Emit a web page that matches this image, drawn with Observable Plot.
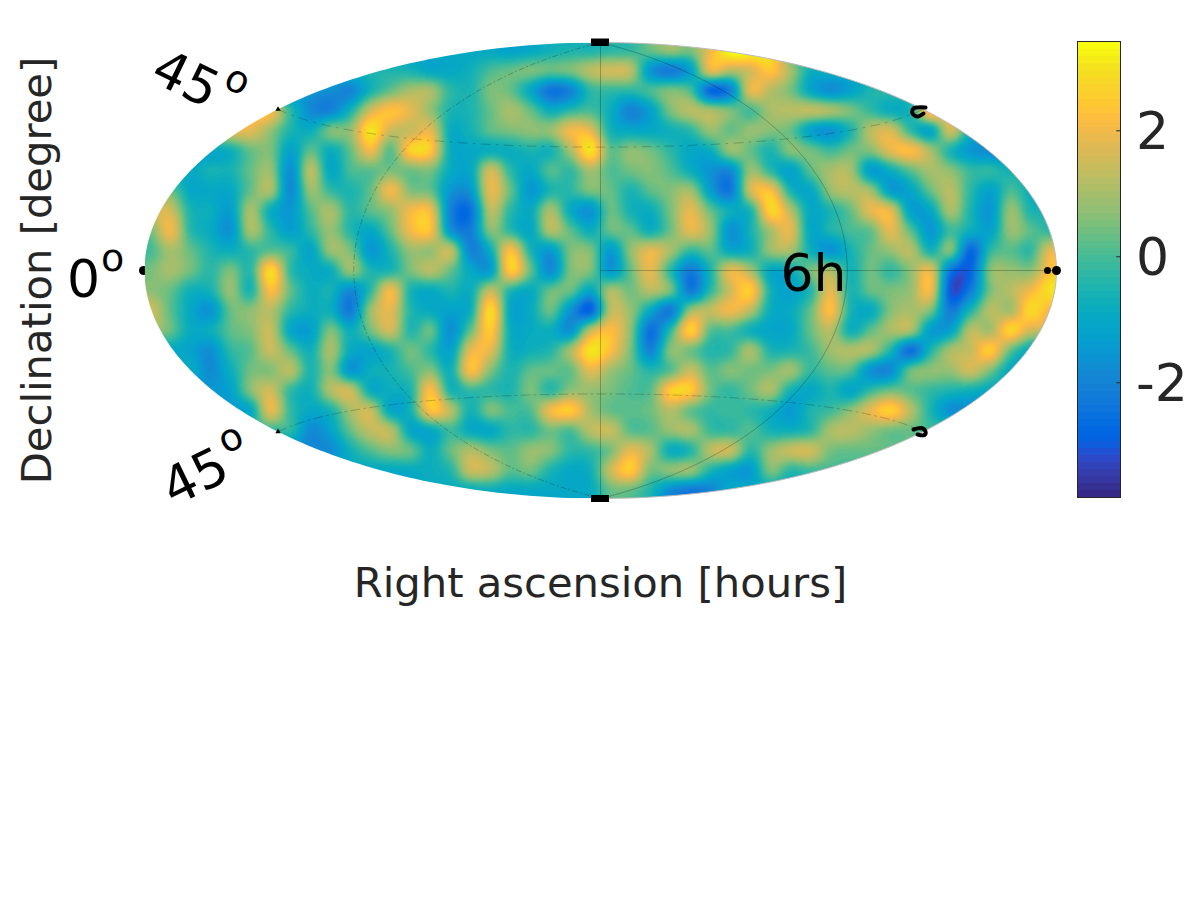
<!DOCTYPE html>
<html><head><meta charset="utf-8">
<style>html,body{margin:0;padding:0;background:#fff}#wrap{position:relative;width:1200px;height:900px;font-family:"DejaVu Sans"}#bar{position:absolute;left:0;top:0}svg{display:block;background:transparent!important}</style>
<script src="https://cdn.jsdelivr.net/npm/d3@7"></script>
<script src="https://cdn.jsdelivr.net/npm/@observablehq/plot@0.6"></script>
</head><body><div id="wrap"><div id="map"></div><div id="bar"></div></div>
<script>
// Sky-map values: one row per declination band, 46 samples per row, top to bottom.
const r050=[-1,-1,-1,-1,-1,-1,-1,-1,-1,-1,-1,-1,-1,-1,-1,-1,-1,-1,-1.2,-1,-.7,-.5,-.5,-.3,-.2,.3,.8,.5,2,3.5,3.5,3,0,0,0,0,0,0,0,0,0,0,0,0,0,0];
const r070=[-.5,-.5,-.5,-.5,-.5,-.5,-.5,-.5,-.5,-.5,-.5,-.5,-.5,-.6,-1,-1,-.7,0,.3,.5,.3,.5,1.2,1.5,1.2,-1.5,-2.2,-1.2,1.8,1.2,1.6,2.4,1,-.7,-.7,-.7,-.7,-.7,-.7,-.7,-.7,-.7,-.7,-.7,-.7,-.7];
const r090=[-1.5,-1.5,-1.5,-1.5,-1.5,-1.5,-1.5,-1.5,-1.5,-1.7,-2,-.6,.3,1,1,-.3,-.5,.5,.3,-1,-2.4,-2,-.3,-.2,-.3,0,.5,0,-2.7,-2,1.8,1.2,.5,-1,-1.7,-1.2,-.5,-.3,-.3,-.3,-.3,-.3,-.3,-.3,-.3,-.3];
const r110=[2,2,2,2,2,2,2,-.3,-1.8,-2,-.6,1.5,2.3,1.8,.8,-.5,-.5,.3,1,.3,-.8,-.3,0,-.8,-2,-1.2,.5,1.2,1,.5,0,1,1.2,1.3,1,.5,-.2,-.8,-.5,2.5,1.5,1.5,1.5,1.5,1.5,1.5];
const r130=[1.8,1.8,1.8,1.8,1.8,1.8,.8,-.5,-.8,.5,.8,3,1.5,1.4,1.8,-.8,-.6,.2,.5,.7,.8,2,1.8,-.6,-1,-1,-.7,-.3,.8,.3,.8,.6,.3,-1.2,-1.6,-.5,1.2,1.6,-.2,-1,1.5,-.5,-.5,-.5,-.5,-.5];
const r150=[-1,-1,-1,-1,-.7,.3,.5,-1.2,.2,-.8,.3,2,.2,2.6,2.4,-.8,-1,-.8,-.8,-.5,-.6,1,3,.3,.7,.4,-.3,-1,-.8,.8,.3,-.5,.6,.4,-.1,.4,.6,1.8,2.2,1,-.5,-1.5,-1.8,-1.8,-1.8,-1.8];
const r170=[-1,-1,-1,-.6,-.6,.3,.8,-1.7,1.2,-1,0,.2,.5,.4,.5,-.9,-1,1.5,-.3,-1,.1,-.2,1,.1,.4,.6,.1,-.8,-1.6,-1.8,.8,-.3,-1.2,.2,1,1,-1.3,-.8,.2,1,.7,-.2,-.3,-.7,-.7,-.7];
const r190=[.3,.3,-1,-1,-1,.3,1,-1.8,.8,-.2,-.5,.3,2,.6,.3,-1.5,-1.5,1.8,.3,-1.5,-.5,-.3,.5,.3,-.5,.2,.6,.9,-1.3,-2.3,1.5,2.2,-.5,-1,.8,1.2,.9,-1.3,-1.1,.3,1.2,-.3,-1.2,0,-.8,-.8];
const r210=[1.5,1.5,-.5,-.8,-1.3,1,-.8,-1.5,.1,1,-.3,.2,.8,2,2,-2,-2.5,1.2,-.3,-.9,1,-.9,-1.6,.3,-.6,-.8,.5,1.8,.3,-.8,-.5,2.7,1.2,-1,-.5,.3,1.8,1.8,-1.2,-1,1,-.5,-1.5,.8,-.5,-.5];
const r230=[.5,2,-.3,-.9,-1.6,1,-.3,-1.3,-.3,.8,-.4,-1,.3,2,2.2,-1.5,-2.2,.6,-.3,-1,1.1,.2,-.8,.3,.2,-.7,.4,1.8,.8,-1.6,-.6,1,1.8,-1,-.5,0,.3,1.8,.2,-1.5,-.1,-.8,-1.2,.8,.2,-.3];
const r250=[0,1,.3,-.5,-.8,-.3,.2,-.2,-1.1,.8,.5,-1.5,-.5,.8,.8,1.3,-2,-.8,2.2,-.5,-1.4,.5,.5,-1.4,.7,1.8,1,-.2,.2,-1,-.7,.8,1,-.7,-1.6,-.6,.3,.8,1.2,-.6,.5,-2.7,-.3,.2,-.2,1.8];
const r270=[.5,1,.4,-.3,.5,-.3,2.8,-.2,-.9,-.8,.8,-.5,-.5,.5,1.2,.3,-1,-1.3,2.5,.3,-1.8,.5,.5,-1.5,.3,1.8,-.3,-2.2,-.5,1.8,1,-1,-.8,.4,1,-.6,.4,-.2,.7,1.8,-2.3,-2.8,.6,.8,.7,2.3];
const r290=[.7,.3,-.7,-.6,.8,-.5,2.2,.3,-.8,-.6,-1.8,-.3,2,-.5,-.9,-.5,-.8,1.3,-.4,-.9,.3,.3,-1,1,.4,1.2,.4,-2.2,-.3,1.5,2.5,-.6,-1.2,-.4,1.8,-.5,.3,.5,.8,2,-3,-2.2,.5,1.2,2,3];
const r310=[1.5,.2,-1,-1.6,.3,.7,1.2,-.3,-.8,-.8,-2.2,.8,1.8,-.4,-.9,-1.2,-.7,2.8,-1,-.9,.3,-1.6,-2.8,1.2,.8,-1,-2.2,.8,1.3,2,1.2,-.8,-.9,.3,2.2,-.5,-.9,.6,1,.5,-2.2,-.5,1.2,1,2.8,2];
const r330=[1,.3,-.9,-.8,.2,.6,1.4,-1,-1.3,.5,-.8,.4,1.5,-.4,.3,-1.7,.3,2.5,-.8,-.9,-.8,-1.6,1.3,2.2,.7,-2.5,-.3,2.6,.2,0,-.7,-1.1,-1,.3,1.2,-.7,.2,1,1,-1.3,-1.2,1.2,1,2.7,1.5,1.5];
const r350=[-1,-1,-1.2,-1.7,-.3,.2,1.4,.3,-.7,1,-.9,-1.1,-.5,.4,-.3,-1.2,1.8,1.8,-.7,-.7,-.4,1,3,2.2,.5,-2,.6,.4,-.4,-.2,1,-.5,-.5,-.1,.9,1.1,1,-.5,-2.5,-.5,1,1.4,2.5,.3,-1,-1];
const r370=[-.9,-.9,-.9,-1.8,-.8,.4,.6,1.2,-.5,.6,-1.5,-.8,-.6,0,.6,-.7,2.2,.6,-.5,.2,.3,.3,1.8,.9,.3,-.4,.2,1.4,.2,.6,.4,.5,.9,-.2,.2,.1,-1.6,-1.8,.3,.7,.8,1.5,.5,-1,-1,-1];
const r390=[-1.5,-1.5,-1.5,-1.5,-1.2,.6,1.5,-.2,-.7,1.1,1.4,-.8,-.8,-.5,2.2,-.5,-.2,-.3,-.5,.5,-.3,.7,.8,.5,.1,.2,2.5,2.5,.4,-.2,.4,1,-.6,-1,-.5,-1.1,-.2,.4,.2,-.2,-.5,-.7,-1,-1,-1,-1];
const r410=[-1.3,-1.3,-1.3,-1.3,-1.3,-1,1.8,-.2,-1,-.6,1,1.4,-1,-.6,2.3,1.2,-.6,.5,0,.1,2,2.5,1,.3,.2,.4,1.2,.3,-.2,-.1,-.3,-.7,-1.4,-.5,-.1,.7,1.8,2.6,1.2,-.5,-1.7,-1.6,-1.6,-1.6,-1.6,-1.6];
const r430=[-.3,-.3,-.3,-.3,-.3,-.3,-.3,-.3,-1.8,-1.2,.3,1.3,1.2,-1,-1,-.1,-.9,-1,-.3,-.3,.4,.1,1.2,1.4,.2,.2,.8,1,-.1,-.2,.1,-.6,-.7,-.3,1,1.2,.8,.4,.3,0,0,0,0,0,0,0];
const r450=[-1.8,-1.8,-1.8,-1.8,-1.8,-1.8,-1.8,-1.8,-1.8,-1.8,-.7,.1,.6,.3,-.8,.3,1.1,.5,.2,.8,.6,-.3,-.2,.5,1.8,1,-.8,-.4,1.2,1.4,-.3,.8,1.4,1.5,.5,.3,.3,.3,.3,.3,.3,.3,.3,.3,.3,.3];
const r470=[-1,-1,-1,-1,-1,-1,-1,-1,-1,-1,-1,-1,-1,-.9,-.8,-.4,1.4,1.2,.2,.4,-.5,-1,-.7,1.4,2.5,.5,.7,.8,-.5,-1.2,-1.4,.5,-.3,-.1,-.1,-.1,-.1,-.1,-.1,-.1,-.1,-.1,-.1,-.1,-.1,-.1];
const r490=[-.9,-.9,-.9,-.9,-.9,-.9,-.9,-.9,-.9,-.9,-.9,-.9,-.9,-.9,-.9,-.9,-.9,-.8,-1,-1,-1,-1,-.9,.3,.3,-.5,-1.8,-2.3,-2,-1,-1,-1,-1,-1,-1,-1,-1,-1,-1,-1,-1,-1,-1,-1,-1,-1];
const rows=[r050,r070,r090,r110,r130,r150,r170,r190,r210,r230,r250,r270,r290,r310,r330,r350,r370,r390,r410,r430,r450,r470,r490];

// MATLAB parula, 64 levels.
const parula=[[.2081,.1663,.5292],[.2116,.1898,.5777],[.2123,.2138,.6270],[.2081,.2386,.6771],[.1959,.2645,.7279],[.1707,.2919,.7792],[.1253,.3242,.8303],[.0591,.3598,.8683],[.0117,.3875,.8820],[.0060,.4086,.8828],[.0165,.4266,.8786],[.0329,.4430,.8720],[.0498,.4586,.8641],[.0629,.4737,.8554],[.0723,.4887,.8467],[.0779,.5040,.8384],[.0793,.5200,.8312],[.0749,.5375,.8263],[.0641,.5570,.8240],[.0488,.5772,.8228],[.0343,.5966,.8199],[.0265,.6137,.8135],[.0239,.6287,.8038],[.0231,.6418,.7913],[.0228,.6535,.7768],[.0267,.6642,.7607],[.0384,.6743,.7436],[.0590,.6838,.7254],[.0843,.6928,.7062],[.1133,.7015,.6859],[.1453,.7098,.6646],[.1801,.7177,.6424],[.2178,.7250,.6193],[.2586,.7317,.5954],[.3022,.7376,.5712],[.3482,.7424,.5473],[.3953,.7459,.5244],[.4420,.7481,.5033],[.4871,.7491,.4840],[.5300,.7491,.4661],[.5709,.7485,.4494],[.6099,.7473,.4337],[.6473,.7456,.4188],[.6834,.7435,.4044],[.7184,.7411,.3905],[.7525,.7384,.3768],[.7858,.7356,.3633],[.8185,.7327,.3498],[.8507,.7299,.3360],[.8824,.7274,.3217],[.9139,.7258,.3063],[.9450,.7261,.2886],[.9739,.7314,.2666],[.9938,.7455,.2403],[.9990,.7653,.2164],[.9955,.7861,.1967],[.9880,.8066,.1794],[.9789,.8271,.1633],[.9697,.8481,.1475],[.9626,.8705,.1309],[.9589,.8949,.1132],[.9598,.9218,.0948],[.9661,.9514,.0755],[.9763,.9831,.0538]].map(c=>d3.rgb(c[0]*255,c[1]*255,c[2]*255).formatHex());

const colorMin=-3.83, colorMax=3.41;
const colorTicks=[-2,0,2];
const colorTickLabels=["-2","0","2"];

const colorScale={type:"linear",domain:[colorMin,colorMax],range:[0,1],interpolate:()=>t=>parula[Math.max(0,Math.min(63,Math.floor(t*64)))],clamp:true};

// Hammer projection in map units (x in [-2,2], y in [-1,1]).
const deg=Math.PI/180;
function hammer(lonDeg,latDeg){
  const l=lonDeg*deg, p=latDeg*deg, z=Math.sqrt(1+Math.cos(p)*Math.cos(l/2));
  return {x:2*Math.cos(p)*Math.sin(l/2)/z, y:Math.sin(p)/z};
}
const meridian=lon=>d3.range(-90,90.5,1).map(lat=>hammer(lon,lat));
const parallel=lat=>d3.range(-180,180.5,2).map(lon=>hammer(lon,lat));

const W=1200,H=900,cx=600,cy=270,rx=456,ry=228;
const rim=d3.range(0,360.5,1).map(a=>[2*Math.cos(a*deg),Math.sin(a*deg)]);
const px=v=>(v-cx)/(rx/2), py=v=>(cy-v)/ry;

// Catmull-Rom reading of the value rows at any map position.
const cr=(a,b,c,d,t)=>b+.5*t*(c-a+t*(2*a-5*b+4*c-d+t*(3*(b-c)+d-a)));
const at=(i,j)=>rows[Math.max(0,Math.min(22,j))][Math.max(0,Math.min(45,i))];
function sky(mx,my){
  const u=(mx*rx/2+cx-150)/20, v=(cy-my*ry-50)/20;
  const i=Math.floor(u), j=Math.floor(v), s=u-i, t=v-j;
  const col=k=>cr(at(i-1,j+k),at(i,j+k),at(i+1,j+k),at(i+2,j+k),s);
  return cr(col(-1),col(0),col(1),col(2),t);
}

const labels=[
 {t:"45",x:185,y:79,r:26,s:52,c:"#000"},
 {t:"o",x:237,y:80,r:26,s:38,c:"#000"},
 {t:"45",x:195,y:477,r:-26,s:52,c:"#000"},
 {t:"o",x:230,y:438,r:-26,s:38,c:"#000"},
 {t:"0",x:83,y:280,r:0,s:52,c:"#000"},
 {t:"o",x:112,y:258,r:0,s:38,c:"#000"},
 {t:"6h",x:813,y:274,r:0,s:52,c:"#000"},
 {t:"Declination [degree]",x:37,y:270,r:-90,s:41.7,c:"#262626"},
 {t:"Right ascension [hours]",x:600,y:583,r:0,s:41.7,c:"#262626"}
];

const pt=(x,y)=>({x:px(x),y:py(y)});
const map=Plot.plot({
  width:W,height:H,margin:0,
  style:{background:"transparent",fontFamily:"DejaVu Sans"},
  x:{domain:[-2,2],range:[cx-rx,cx+rx],axis:null},
  y:{domain:[-1,1],range:[cy+ry,cy-ry],axis:null},
  color:colorScale,
  marks:[
    Plot.dot([hammer(-180,0)],{x:"x",y:"y",dx:-1,r:4.5,fill:"#000"}),
    Plot.raster({fill:sky,x1:-2,x2:2,y1:1,y2:-1,pixelSize:1,clip:{type:"Polygon",coordinates:[rim]}}),
    Plot.line(meridian(0),{x:"x",y:"y",stroke:"#000",strokeOpacity:.35,strokeWidth:.7}),
    Plot.line(meridian(90),{x:"x",y:"y",stroke:"#000",strokeOpacity:.4,strokeWidth:.6}),
    Plot.line(meridian(-90),{x:"x",y:"y",stroke:"#000",strokeOpacity:.4,strokeWidth:.6,strokeDasharray:"5 3 1 3"}),
    Plot.line(parallel(45),{x:"x",y:"y",stroke:"#000",strokeOpacity:.35,strokeWidth:.6,strokeDasharray:"9 6 2 6"}),
    Plot.line(parallel(-45),{x:"x",y:"y",stroke:"#000",strokeOpacity:.35,strokeWidth:.6,strokeDasharray:"9 4 2 4"}),
    Plot.line(d3.range(0,180.5,2).map(l=>hammer(l,0)),{x:"x",y:"y",stroke:"#000",strokeOpacity:.35,strokeWidth:.7}),
    Plot.line(d3.range(0,180.5,1).map(l=>hammer(180,l-90)),{x:"x",y:"y",stroke:"#bbb",strokeWidth:1}),
    Plot.text(labels,{x:d=>px(d.x),y:d=>py(d.y),text:"t",rotate:"r",fontSize:"s",fill:"c",textAnchor:"middle",lineAnchor:"middle"}),
    // Grid-end markers at the rim.
    Plot.rect([{a:38.5,b:46},{a:495,b:502}],{x1:()=>px(591),x2:()=>px(609),y1:d=>py(d.a),y2:d=>py(d.b),fill:"#000"}),
    Plot.dot([hammer(180,0)],{x:"x",y:"y",r:4.5,fill:"#000"}),
    Plot.dot([hammer(180,0)],{x:"x",y:"y",dx:-9,r:3.5,fill:"#000"}),
    Plot.line([pt(925,107),pt(913,108),pt(912,113),pt(917,116),pt(923,113)],{x:"x",y:"y",stroke:"#000",strokeWidth:4,curve:"catmull-rom"}),
    Plot.line([pt(913,429),pt(921,427.5),pt(925,431),pt(924,434.5),pt(917,434)],{x:"x",y:"y",stroke:"#000",strokeWidth:4,curve:"catmull-rom"}),
    Plot.dot([hammer(-180,45),hammer(-180,-45)],{x:"x",y:"y",r:2,symbol:"triangle",fill:"#000"})
  ]
});
document.getElementById("map").append(map);

const barLevels=d3.range(64).map(i=>colorMin+(i+.5)*(colorMax-colorMin)/64);
const bar=Plot.plot({
  width:W,height:H,margin:0,
  style:{background:"transparent",fontFamily:"DejaVu Sans"},
  x:{domain:[0,1],range:[1077.5,1120.5],axis:null},
  y:{domain:[colorMin,colorMax],range:[497.5,41.5],axis:null},
  color:colorScale,
  marks:[
    Plot.rect(barLevels,{x1:0,x2:1,y1:d=>d-(colorMax-colorMin)/128,y2:d=>d+(colorMax-colorMin)/128,fill:d=>d,shapeRendering:"crispEdges"}),
    Plot.rect([0],{x1:0,x2:1,y1:colorMin,y2:colorMax,stroke:"#262626",strokeWidth:1,fill:"none"}),
    Plot.ruleY(colorTicks,{y:d=>d,x1:.9,x2:1,stroke:"#262626",strokeWidth:1}),
    Plot.text(colorTicks,{y:d=>d,x:1,dx:15,dy:2,text:(d,i)=>colorTickLabels[i],textAnchor:"start",fontSize:52,fill:"#262626",lineAnchor:"middle"})
  ]
});
document.getElementById("bar").append(bar);
</script></body></html>
